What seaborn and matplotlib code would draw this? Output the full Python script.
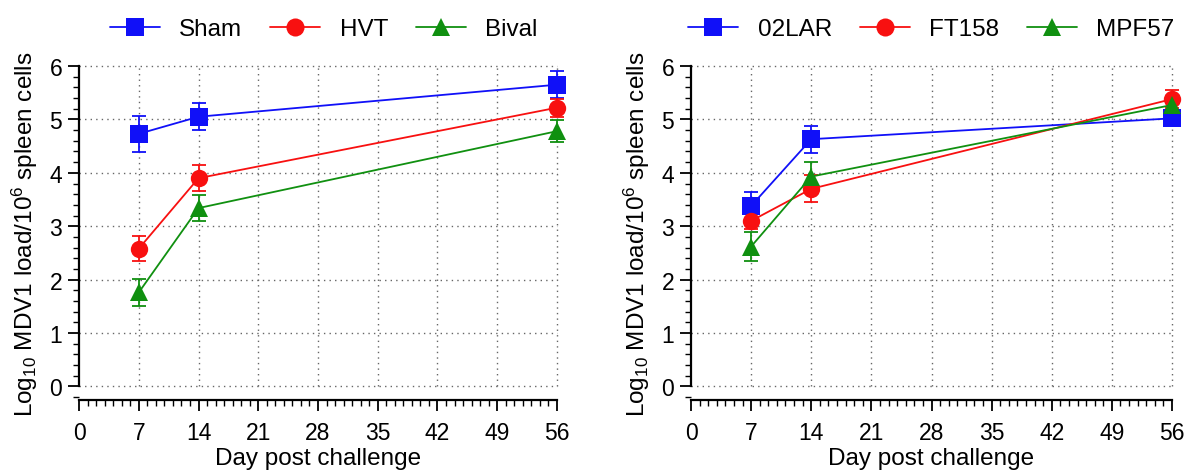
import numpy as np
import pandas as pd
import matplotlib
matplotlib.use("Agg")
import matplotlib.pyplot as plt
from matplotlib.ticker import MultipleLocator
import seaborn as sns

# Sampling days after challenge
days = [7, 14, 56]

# Panel A: vaccine groups (mean log10 load and SEM)
groups_a = ["Sham", "HVT", "Bival"]
sham_mean = [4.73, 5.05, 5.65]
sham_sem = [0.34, 0.25, 0.25]
hvt_mean = [2.58, 3.90, 5.22]
hvt_sem = [0.23, 0.24, 0.17]
bival_mean = [1.76, 3.34, 4.78]
bival_sem = [0.25, 0.24, 0.20]

# Panel B: challenge strains (mean log10 load and SEM)
groups_b = ["02LAR", "FT158", "MPF57"]
lar_mean = [3.38, 4.63, 5.02]
lar_sem = [0.26, 0.25, 0.12]
ft_mean = [3.10, 3.70, 5.38]
ft_sem = [0.15, 0.25, 0.17]
mpf_mean = [2.62, 3.93, 5.27]
mpf_sem = [0.27, 0.27, 0.15]

x_ticks = [0, 7, 14, 21, 28, 35, 42, 49, 56]
y_ticks = [0, 1, 2, 3, 4, 5, 6]

colors = ["#1010f8", "#f81010", "#109010"]
markers = ["s", "o", "^"]


def build_frame(names, means, sems):
    rows = []
    for name, m, s in zip(names, means, sems):
        for d, v, e in zip(days, m, s):
            rows.append({"day": d, "load": v, "sem": e, "group": name})
    return pd.DataFrame(rows)


df_a = build_frame(groups_a, [sham_mean, hvt_mean, bival_mean],
                   [sham_sem, hvt_sem, bival_sem])
df_b = build_frame(groups_b, [lar_mean, ft_mean, mpf_mean],
                   [lar_sem, ft_sem, mpf_sem])

sns.set_theme(style="white", rc={
    "text.color": "black",
    "axes.labelcolor": "black",
    "xtick.color": "black",
    "ytick.color": "black",
    "axes.edgecolor": "black",
})
plt.rcParams["font.family"] = ["Liberation Sans", "DejaVu Sans"]
plt.rcParams["mathtext.fontset"] = "custom"
plt.rcParams["mathtext.rm"] = "Liberation Sans"
plt.rcParams["mathtext.it"] = "Liberation Sans:italic"

fig = plt.figure(figsize=(11.85, 4.77), dpi=100)
fig.patch.set_facecolor("white")

ax_a = fig.add_axes([79 / 1185, 76 / 477, 478 / 1185, 334 / 477])
ax_b = fig.add_axes([691 / 1185, 76 / 477, 481 / 1185, 334 / 477])

y_bottom = -0.253


def draw_panel(ax, df, names, legend_x):
    pal = dict(zip(names, colors))
    mk = dict(zip(names, markers))
    # guide grid, drawn only over the data range
    for xt in x_ticks[1:]:
        ax.plot([xt, xt], [0, 6], color="#666666", lw=1.0,
                ls=(0, (1, 3)), zorder=0.5)
    for yt in y_ticks:
        ax.plot([0, 56], [yt, yt], color="#666666", lw=1.0,
                ls=(0, (1, 3)), zorder=0.5)

    for name in names:
        sub = df[df["group"] == name]
        ax.errorbar(sub["day"], sub["load"], yerr=sub["sem"], fmt="none",
                    ecolor=pal[name], elinewidth=1.3, capsize=5,
                    capthick=1.3, zorder=2, clip_on=False)

    sns.lineplot(data=df, x="day", y="load", hue="group", style="group",
                 hue_order=names, style_order=names, palette=pal,
                 markers=mk, dashes=False, linewidth=1.3, markersize=12.5,
                 markeredgewidth=0, ax=ax, zorder=3)

    for ln in ax.lines:
        ln.set_clip_on(False)

    handles, labels = ax.get_legend_handles_labels()
    ax.legend(handles, labels, ncol=3, loc="center",
              bbox_to_anchor=(legend_x, 1.11), frameon=False, fontsize=17.5,
              handlelength=2.05, handletextpad=0.8, columnspacing=1.15,
              borderaxespad=0, borderpad=0)
    for h in ax.get_legend().legend_handles:
        h.set_linewidth(1.3)
        h.set_markersize(13)

    ax.set_xlim(0, 56)
    ax.set_ylim(y_bottom, 6)
    ax.set_xticks(x_ticks)
    ax.set_yticks(y_ticks)
    ax.xaxis.set_minor_locator(MultipleLocator(1))
    ax.yaxis.set_minor_locator(MultipleLocator(0.2))
    ax.tick_params(axis="both", which="major", direction="out", length=8,
                   width=1.3, color="black", labelsize=16.5)
    ax.tick_params(axis="x", which="major", pad=7)
    ax.tick_params(axis="y", which="major", pad=4)
    ax.tick_params(axis="both", which="minor", direction="out", length=4,
                   width=1.0, color="black")
    ax.tick_params(axis="x", which="both", bottom=True)
    ax.tick_params(axis="y", which="both", left=True)
    for side in ["top", "right"]:
        ax.spines[side].set_visible(False)
    for side in ["left", "bottom"]:
        ax.spines[side].set_linewidth(1.6)
        ax.spines[side].set_color("black")
    ax.spines["left"].set_bounds(0, 6)
    ax.set_facecolor("white")
    ax.grid(False)

    ax.set_xlabel("Day post challenge", fontsize=17.5, labelpad=2)
    ax.set_ylabel("Log$_{10}$ MDV1 load/10$^{6}$ spleen cells", fontsize=17.5,
                  labelpad=7)


draw_panel(ax_a, df_a, groups_a, 0.512)
draw_panel(ax_b, df_b, groups_b, 0.5)

fig.savefig("out.png", dpi=100, facecolor="white")
